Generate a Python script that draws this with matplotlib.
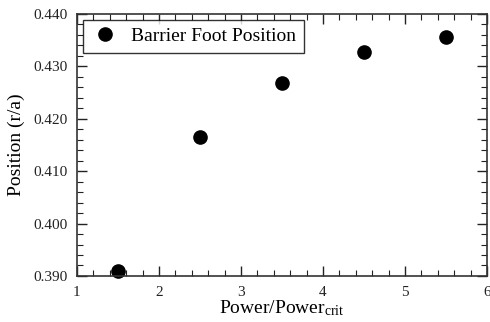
import matplotlib
matplotlib.use("Agg")
import matplotlib.pyplot as plt
from matplotlib.ticker import MultipleLocator, FormatStrFormatter

plt.rcParams['font.family'] = ['Liberation Serif', 'DejaVu Serif']
plt.rcParams['mathtext.fontset'] = 'custom'
plt.rcParams['mathtext.rm'] = 'Liberation Serif'
plt.rcParams['mathtext.it'] = 'Liberation Serif:italic'

power = [1.5, 2.5, 3.5, 4.5, 5.5]
position = [0.3910, 0.4166, 0.4268, 0.4328, 0.4355]

fig = plt.figure(figsize=(4.9, 3.22), dpi=100)
ax = fig.add_axes([0.157, 0.143, 0.837, 0.814])
ax.plot(power, position, 'o', color='black', markersize=9.5, label='Barrier Foot Position', clip_on=False)
ax.set_xlim(1, 6)
ax.set_ylim(0.390, 0.440)
ax.xaxis.set_major_locator(MultipleLocator(1))
ax.xaxis.set_minor_locator(MultipleLocator(0.2))
ax.yaxis.set_major_locator(MultipleLocator(0.01))
ax.yaxis.set_minor_locator(MultipleLocator(0.002))
ax.yaxis.set_major_formatter(FormatStrFormatter('%.3f'))
ax.tick_params(which='both', direction='in', top=True, right=True, labelsize=11, colors='#222222')
ax.tick_params(axis='x', which='major', pad=7)
ax.tick_params(axis='y', which='major', pad=7)
ax.tick_params(which='major', length=7, width=1)
ax.tick_params(which='minor', length=4, width=0.8)
for s in ax.spines.values():
    s.set_linewidth(1.2)
    s.set_color('#333333')
ax.set_xlabel('Power/Power$_{\\mathrm{crit}}$', fontsize=14, labelpad=0)
ax.set_ylabel('Position (r/a)', fontsize=14, labelpad=6)
leg = ax.legend(loc='upper left', fontsize=14, frameon=True, fancybox=False, borderaxespad=0.3,
                handletextpad=0.6, borderpad=0.4, handlelength=1.5)
leg.get_frame().set_edgecolor('black')
leg.get_frame().set_linewidth(1.0)
fig.savefig('out.png', dpi=100)
